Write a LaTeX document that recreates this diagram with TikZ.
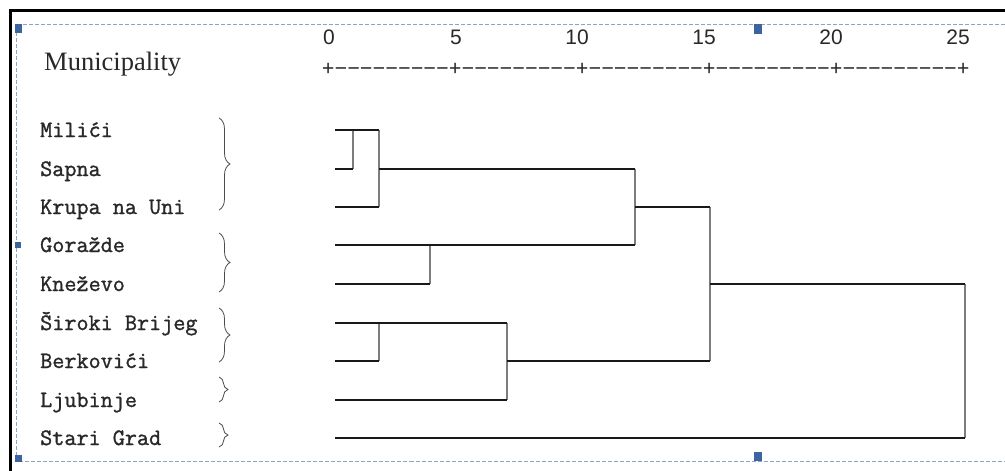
\documentclass[tikz,border=0pt]{standalone}
\usepackage{fontspec}
\setmainfont{Liberation Serif}
\newfontfamily\labelfont{Latin Modern Mono}[FakeBold=1.2]
\newfontfamily\rulerfont{Liberation Mono}
\newfontfamily\numfont{Liberation Sans}
\usetikzlibrary{decorations.pathreplacing}
\definecolor{framedash}{RGB}{140,165,195}
\definecolor{handle}{RGB}{60,100,160}
\definecolor{vline}{RGB}{125,125,125}
\definecolor{txt}{RGB}{40,40,40}
\tikzset{
  lab/.style={inner sep=0pt, anchor=base west, font=\labelfont\fontsize{23.5}{23.5}\selectfont, text=txt},
  num/.style={inner sep=0pt, anchor=base east, font=\numfont\fontsize{21}{21}\selectfont, text=txt},
  hl/.style={draw=black!90, line width=1.3pt},
  vl/.style={draw=vline, line width=1.1pt},
  bracestyle/.style={draw=black!70, line width=0.8pt, decorate, decoration={brace, amplitude=11pt}},
  handlebox/.style={fill=handle, draw=none}
}
\begin{document}
\begin{tikzpicture}[x=1pt,y=-1pt]
\useasboundingbox (0,0) rectangle (1005,471);
\fill[white] (0,0) rectangle (1005,471);
% outer black frame
\draw[line width=2.6pt] (10.5,471) -- (10.5,10.5) -- (1005,10.5);
% dashed selection frame
\draw[framedash, line width=1pt, dash pattern=on 4pt off 2pt] (1005,24.5) -- (16.5,24.5) -- (16.5,461) -- (1005,461);
% handles
\fill[handlebox] (15,24) rectangle (22,33);
\fill[handlebox] (15,455) rectangle (22,462);
\fill[handlebox] (15,242) rectangle (21,248);
\fill[handlebox] (754,24) rectangle (762,34);
\fill[handlebox] (754,452) rectangle (762,461);

% header
\node[inner sep=0pt, anchor=base west, font=\fontsize{26.5}{26.5}\selectfont, text=txt] (muni) at (44,70) {Municipality};
\node[num] (n0) at (335,45) {0};
\node[num] (n5) at (462,45) {5};
\node[num] (n10) at (589,45) {10};
\node[num] (n15) at (716,45) {15};
\node[num] (n20) at (843,45) {20};
\node[num] (n25) at (970,45) {25};
\node[inner sep=0pt, anchor=base west, font=\rulerfont\fontsize{21.17}{21.17}\selectfont, text=txt] (ruler) at (321.65,75) {+−−−−−−−−−+−−−−−−−−−+−−−−−−−−−+−−−−−−−−−+−−−−−−−−−+};

% labels
\node[lab] (milici) at (40,137) {Milići};
\node[lab] (sapna) at (40,176) {Sapna};
\node[lab] (krupa) at (40,214) {Krupa na Uni};
\node[lab] (gorazde) at (40,252) {Goražde};
\node[lab] (knezevo) at (40,291) {Kneževo};
\node[lab] (siroki) at (40,330) {Široki Brijeg};
\node[lab] (berkovici) at (40,368) {Berkovići};
\node[lab] (ljubinje) at (40,407) {Ljubinje};
\node[lab] (stari) at (40,445) {Stari Grad};

% braces
\draw[bracestyle] (219,118) -- (219,210);
\draw[bracestyle] (219,233) -- (219,292);
\draw[bracestyle] (219,308) -- (219,362);
\draw[bracestyle, decoration={brace, amplitude=9pt}] (219,377) -- (219,402);
\draw[bracestyle, decoration={brace, amplitude=9pt}] (219,423) -- (219,447);

% leaf ends
\coordinate (l1) at (335,130);
\coordinate (l2) at (335,169);
\coordinate (l3) at (335,207);
\coordinate (l4) at (335,245);
\coordinate (l5) at (335,284);
\coordinate (l6) at (335,323);
\coordinate (l7) at (335,361);
\coordinate (l8) at (335,400);
\coordinate (l9) at (335,438);
% merge corners
\coordinate (a1t) at (353,130); \coordinate (a1b) at (353,169);
\coordinate (a2t) at (379,130); \coordinate (a2m) at (379,169); \coordinate (a2b) at (379,207);
\coordinate (a3t) at (430,245); \coordinate (a3b) at (430,284);
\coordinate (a4t) at (635,169); \coordinate (a4m) at (635,207); \coordinate (a4b) at (635,245);
\coordinate (a5t) at (379,323); \coordinate (a5b) at (379,361);
\coordinate (a6t) at (507,323); \coordinate (a6m) at (507,361); \coordinate (a6b) at (507,400);
\coordinate (a7t) at (710,207); \coordinate (a7m) at (710,284); \coordinate (a7b) at (710,361);
\coordinate (a8t) at (965,284); \coordinate (a8b) at (965,438);

% vertical joins
\draw[vl] (a1t) -- (a1b);
\draw[vl] (a2t) -- (a2b);
\draw[vl] (a3t) -- (a3b);
\draw[vl] (a4t) -- (a4b);
\draw[vl] (a5t) -- (a5b);
\draw[vl] (a6t) -- (a6b);
\draw[vl] (a7t) -- (a7b);
\draw[vl] (a8t) -- (a8b);

% horizontals
\draw[hl] (l1) -- (a2t);
\draw[hl] (l2) -- (a1b);
\draw[hl] (l3) -- (a2b);
\draw[hl] (a2m) -- (a4t);
\draw[hl] (l4) -- (a4b);
\draw[hl] (l5) -- (a3b);
\draw[hl] (a4m) -- (a7t);
\draw[hl] (l6) -- (a6t);
\draw[hl] (l7) -- (a5b);
\draw[hl] (l8) -- (a6b);
\draw[hl] (a6m) -- (a7b);
\draw[hl] (a7m) -- (a8t);
\draw[hl] (l9) -- (a8b);
\end{tikzpicture}
\end{document}
